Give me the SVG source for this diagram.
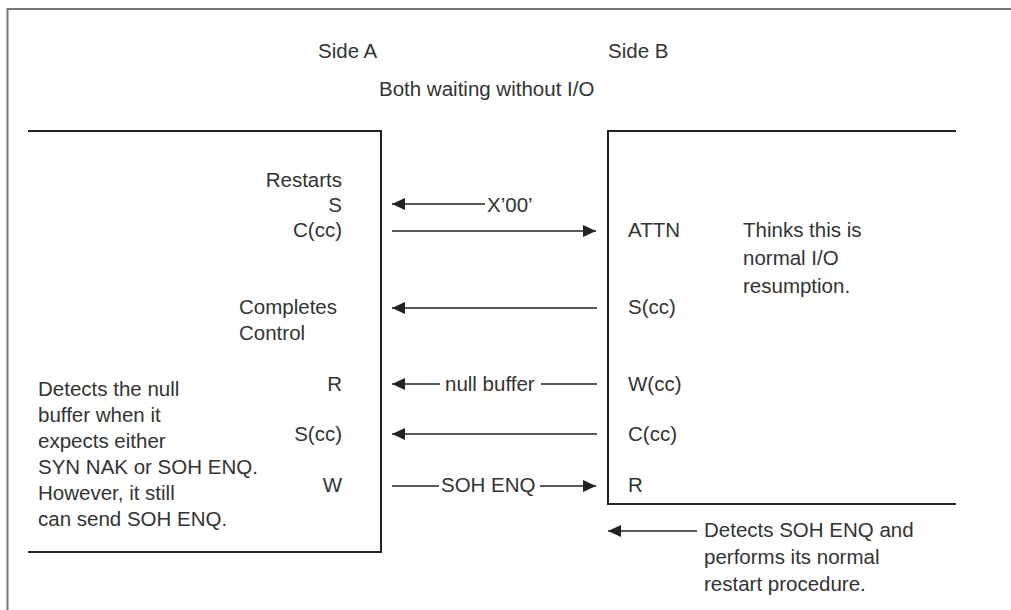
<svg xmlns="http://www.w3.org/2000/svg" width="1011" height="610" viewBox="0 0 1011 610">
<style>
text{font-family:"Liberation Sans",Arial,sans-serif;font-size:20.5px;fill:#333}
.e{text-anchor:end}
.frame{stroke:#777;stroke-width:2;fill:none}
.box{stroke:#222;stroke-width:2;fill:none}
.c{stroke:#222;stroke-width:1.6;fill:none}
.a{marker-end:url(#ah)}
</style>
<defs>
<marker id="ah" viewBox="0 0 13 12" refX="13" refY="6" markerWidth="13" markerHeight="12" markerUnits="userSpaceOnUse" orient="auto">
<path d="M0,0 L13,6 L0,12 z" fill="#222"/>
</marker>
</defs>
<rect width="1011" height="610" fill="#fff"/>
<g id="frame">
<path class="frame" d="M7.5,610 V9 H1011"/>
</g>
<g id="header">
<text x="318" y="58">Side A</text>
<text x="608" y="58">Side B</text>
<text x="379" y="96">Both waiting without I/O</text>
</g>
<g id="sideA">
<path class="box" d="M28,131 H381 V552 H28"/>
<text class="e" x="342" y="187">Restarts</text>
<text class="e" x="342" y="212">S</text>
<text class="e" x="342" y="237">C(cc)</text>
<text x="239" y="314">Completes</text>
<text x="239" y="340">Control</text>
<text class="e" x="342" y="391">R</text>
<text class="e" x="342" y="441">S(cc)</text>
<text class="e" x="342" y="492">W</text>
<text x="38" y="396">Detects the null</text>
<text x="38" y="422">buffer when it</text>
<text x="38" y="448">expects either</text>
<text x="38" y="474">SYN NAK or SOH ENQ.</text>
<text x="38" y="500">However, it still</text>
<text x="38" y="526">can send SOH ENQ.</text>
</g>
<g id="sideB">
<path class="box" d="M956,131 H608 V504 H956"/>
<text x="628" y="237">ATTN</text>
<text x="743" y="237">Thinks this is</text>
<text x="743" y="265">normal I/O</text>
<text x="743" y="293">resumption.</text>
<text x="628" y="314">S(cc)</text>
<text x="628" y="391">W(cc)</text>
<text x="628" y="441">C(cc)</text>
<text x="628" y="492">R</text>
</g>
<g id="connectors">
<line class="c a" x1="485" y1="204" x2="392" y2="204"/>
<text x="487" y="212">X’00’</text>
<line class="c a" x1="392" y1="231" x2="596" y2="231"/>
<line class="c a" x1="597" y1="308" x2="392" y2="308"/>
<line class="c a" x1="440" y1="384" x2="392" y2="384"/>
<text x="445" y="391">null buffer</text>
<line class="c" x1="541" y1="384" x2="597" y2="384"/>
<line class="c a" x1="597" y1="434" x2="392" y2="434"/>
<line class="c" x1="392" y1="486" x2="439" y2="486"/>
<text x="441" y="492">SOH ENQ</text>
<line class="c a" x1="540" y1="486" x2="596" y2="486"/>
<line class="c a" x1="697" y1="531" x2="608" y2="531"/>
</g>
<g id="note">
<text x="704" y="537">Detects SOH ENQ and</text>
<text x="704" y="564">performs its normal</text>
<text x="704" y="591">restart procedure.</text>
</g>
</svg>
